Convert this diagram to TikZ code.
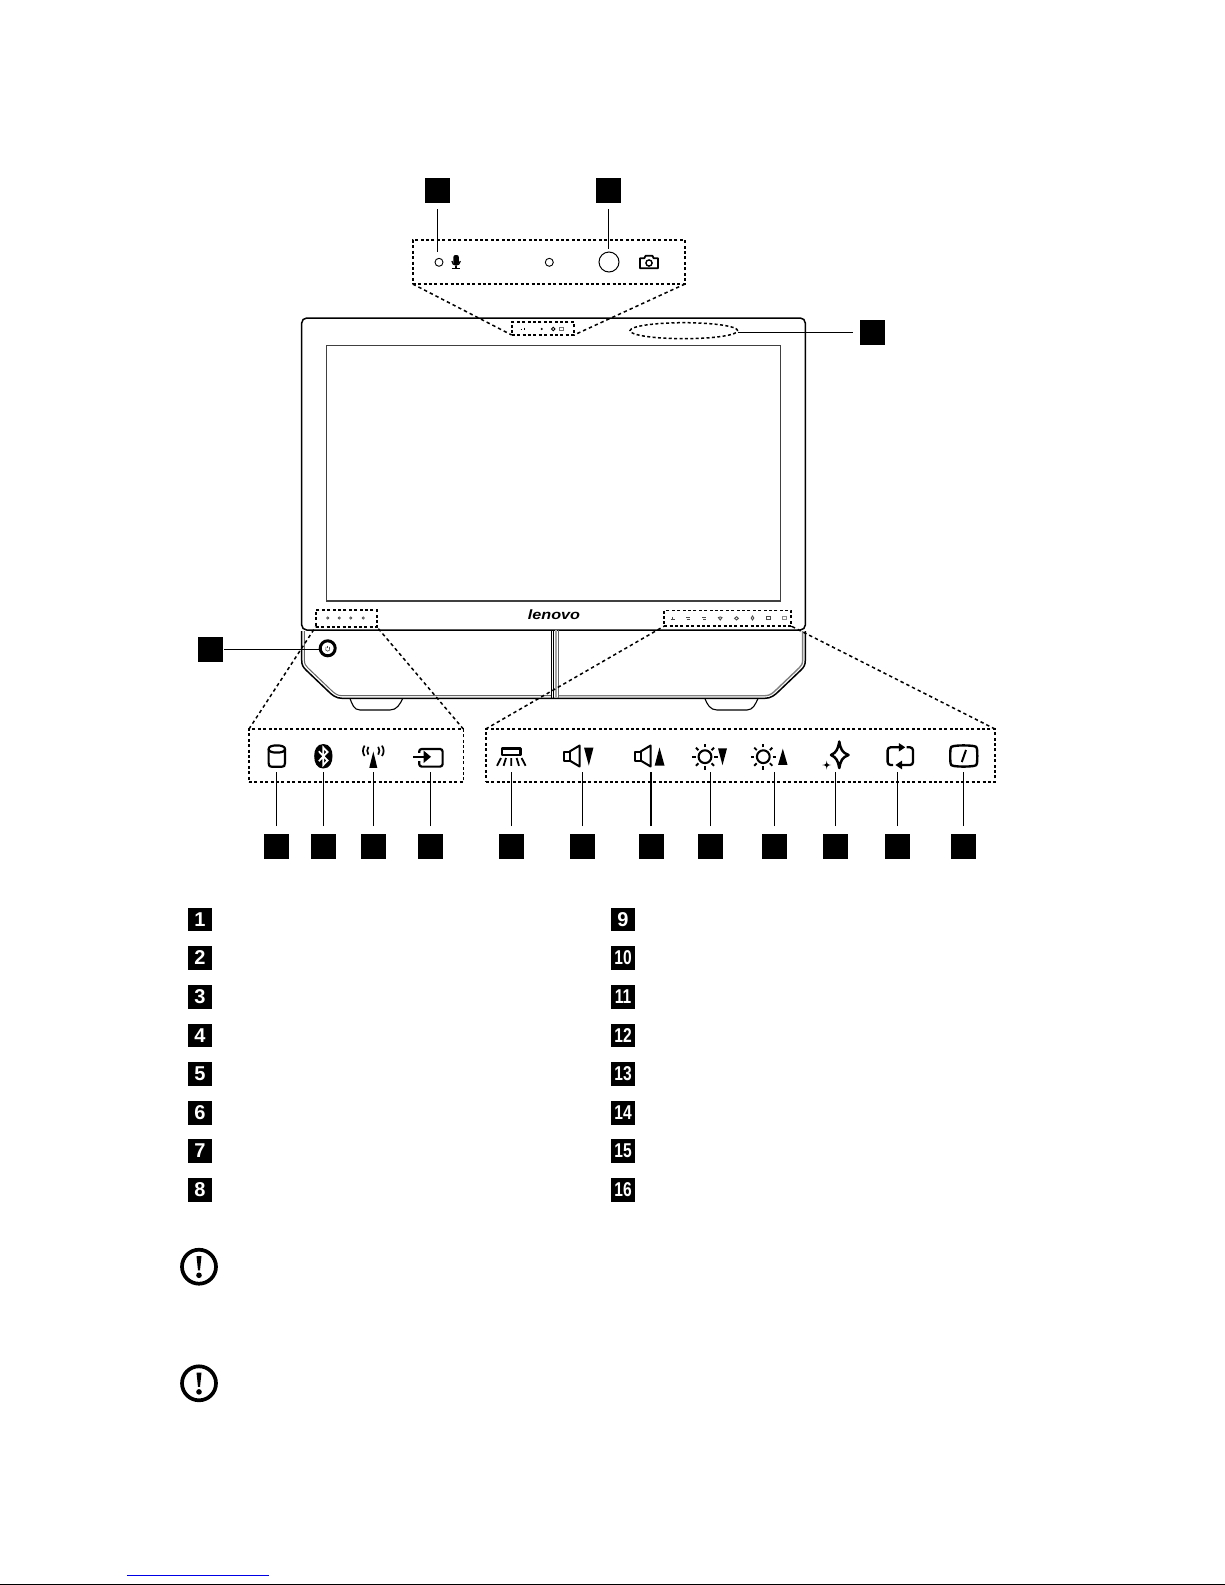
\documentclass[tikz,border=0pt]{standalone}
\usepackage{fontspec}
\usepackage{graphicx}
\setmainfont{Liberation Sans}
\usetikzlibrary{shapes.geometric}
\definecolor{lnkblue}{RGB}{0,0,230}
\tikzset{
  x=1pt,y=-1pt,
  sq/.style={fill=black,draw=none,minimum width=25pt,minimum height=25pt,inner sep=0pt,outer sep=0pt},
  lg/.style={fill=black,draw=none,minimum width=24pt,minimum height=23.6pt,inner sep=0pt,outer sep=0pt,text=white,font=\bfseries\fontsize{20}{20}\selectfont},
  conn/.style={draw=black,line width=1.2pt},
  dbox/.style={draw=black,line width=1.6pt,dash pattern=on 3pt off 2.4pt,inner sep=0pt,outer sep=0pt},
  dline/.style={draw=black,line width=1.5pt,dash pattern=on 3.4pt off 3pt},
  icon/.style={draw=black,line width=2.2pt,line join=round},
  tinymark/.style={draw=black!70,line width=.7pt},
  pics/spkicon/.style={code={
    \draw[icon,line width=2pt] (0,-4.5) rectangle (6,4.5);
    \draw[icon,line width=2pt] (6,-4.5) -- (16,-10.5) -- (16,10.5) -- (6,4.5);
  }},
  pics/sunicon/.style={code={
    \draw[icon,line width=2.1pt] (0,0) circle[radius=6.4pt];
    \foreach \a in {0,45,...,315} {\draw[icon,line width=1.9pt] (\a:9.3pt) -- (\a:12.8pt);}
  }},
  pics/alerticon/.style={code={
    \draw[black,line width=3.7pt] (0,0) circle[radius=17pt];
    \fill[black] (-2.5,-10.7) -- (2.5,-10.7) -- (1,3.6) -- (-1,3.6) -- cycle;
    \fill[black] (0,8.6) circle[radius=2.8pt];
  }},
}
\begin{document}
\begin{tikzpicture}
\useasboundingbox (0,0) rectangle (1225,1585);
% monitor
\node[draw=black,line width=1.5pt,rounded corners=5pt,minimum width=503.6pt,minimum height=312pt,inner sep=0pt,outer sep=0pt] (monitor) at (553.5,474) {};
\node[draw=black!75,line width=1.1pt,minimum width=453.6pt,minimum height=255.6pt,inner sep=0pt,outer sep=0pt] (screen) at (553.5,473.2) {};
\node[inner sep=0pt,font=\bfseries\itshape\fontsize{13.5}{13.5}\selectfont] (logo) at (554,615) {\scalebox{1.2}[1]{lenovo}};
% base
\draw[black,line width=1.5pt] (301.7,631) -- (301.7,660) .. controls (301.7,665) and (303,667) .. (306,670) -- (328,691) .. controls (332,695) and (336,698.3) .. (342,698.3) -- (765,698.3) .. controls (771,698.3) and (775,695) .. (779,691) -- (801,670) .. controls (804,667) and (805.3,665) .. (805.3,660) -- (805.3,631);
\draw[black!60,line width=1pt] (304.4,631) -- (304.4,660) .. controls (304.4,664) and (305.5,665.5) .. (308,668) -- (330,689) .. controls (334,693) and (337,695.7) .. (342,695.7) -- (551,695.7);
\draw[black!50,line width=1.4pt] (802.6,631) -- (802.6,660) .. controls (802.6,664) and (801.5,665.5) .. (799,668) -- (777,689) .. controls (773,693) and (770,695.7) .. (765,695.7) -- (558,695.7);
% centre strip
\draw[black,line width=1pt] (551,630) -- (551,698);
\draw[black,line width=1pt] (553.4,630) -- (553.4,698);
\draw[black!35,line width=1.4pt] (556,630) -- (556,698);
\draw[black!60,line width=.9pt] (558.3,630) -- (558.3,698);
% feet
\draw[black,line width=1.1pt] (350,698.5) .. controls (352,704) and (354,710) .. (360,710) -- (390,710) .. controls (397,710) and (400,704) .. (402.7,698.5);
\draw[black,line width=1.1pt] (704.9,698.5) .. controls (707,704) and (710,710) .. (717,710) -- (747,710) .. controls (753,710) and (755.5,704) .. (758,698.5);
% dashed boxes
\node[dbox,minimum width=272.3pt,minimum height=44pt] (camzoom) at (548.85,262) {};
\node[dbox,minimum width=62.3pt,minimum height=13pt] (camsmall) at (542.85,328.5) {};
\node[dbox,minimum width=214.3pt,minimum height=53pt] (ledzoom) at (356.15,755.5) {};
\node[dbox,minimum width=61pt,minimum height=16.7pt] (ledsmall) at (346.2,618.35) {};
\node[dbox,minimum width=509.3pt,minimum height=53pt] (keyzoom) at (740.35,755.5) {};
\node[dbox,minimum width=127pt,minimum height=15.8pt] (keysmall) at (727.7,618.2) {};
\node[draw=black,ellipse,line width=1.5pt,dash pattern=on 3pt off 2.4pt,minimum width=107.7pt,minimum height=16pt,inner sep=0pt,outer sep=0pt] (ellipsezone) at (683.85,330.7) {};
\draw[dline] (camzoom.south west) -- (camsmall.south west);
\draw[dline] (camzoom.south east) -- (camsmall.south east);
\draw[dline] (ledzoom.north west) -- (ledsmall.south west);
\draw[dline] (ledzoom.north east) -- (ledsmall.south east);
\draw[dline] (keyzoom.north west) -- (keysmall.south west);
\draw[dline] (keyzoom.north east) -- (keysmall.south east);
% tiny marks, camera strip
\draw[tinymark,draw=black] (520.5,329) -- (522,329) (524,327.6) -- (524,330.4);
\fill[black] (541.8,329) circle[radius=1.1pt];
\draw[tinymark,draw=black,line width=.9pt] (553.3,329) circle[radius=1.8pt];
\draw[tinymark,draw=black!55] (559.4,327.5) rectangle (563.2,330.5);
% tiny marks, led strip
\foreach \mx in {327.7,339.3,350.7,363.3} {\draw[tinymark] (\mx,618) circle[radius=1.1pt];}
% tiny marks, key strip
\draw[tinymark] (670.5,619.5) -- (675,619.5) (672.7,616.5) -- (672.7,619.5);
\draw[tinymark] (686,617.5) -- (690,617.5) (686.5,619.5) -- (689.5,619.5);
\draw[tinymark] (702,617.5) -- (706,617.5) (703,619.5) -- (706,619.5);
\draw[tinymark,line width=.9pt] (720.2,616.9) -- (722,617.6) -- (720.2,620) -- (718.4,617.6) -- cycle;
\draw[tinymark,line width=.9pt] (736.5,616.7) -- (738.4,618.3) -- (736.5,620) -- (734.6,618.3) -- cycle;
\draw[tinymark,line width=.9pt] (752.5,616) -- (753.8,618) -- (752.5,620) -- (751.2,618) -- cycle;
\draw[tinymark] (766.8,616.6) rectangle (770.2,619.8);
\draw[tinymark,draw=black!45] (782.8,616.6) rectangle (786.2,619.8);
% camera head
\node[draw=black,circle,line width=.9pt,minimum size=8pt,inner sep=0pt,outer sep=0pt] (micdot) at (439,262.3) {};
\node[draw=black,circle,line width=.9pt,minimum size=8pt,inner sep=0pt,outer sep=0pt] (dotb) at (549.3,262.3) {};
\node[draw=black,circle,line width=1pt,minimum size=20pt,inner sep=0pt,outer sep=0pt] (lens) at (609,262) {};
% mic icon
\fill[black,rounded corners=2pt] (453.4,255) rectangle (458.8,265);
\draw[black,line width=1.2pt] (451.9,261) .. controls (452,266.5) and (460,266.5) .. (460.3,261);
\draw[black,line width=1.3pt] (456.1,265.5) -- (456.1,268.8) (451.8,268.8) -- (460.4,268.8);
% camera icon
\draw[icon,line width=1.8pt] (640,258.3) -- (644.3,258.3) -- (645.6,255.8) -- (652.4,255.8) -- (653.7,258.3) -- (658,258.3) -- (658,268.3) -- (640,268.3) -- cycle;
\draw[black,line width=1.4pt] (649,263) circle[radius=3.1pt];
% power
\node[draw=black,circle,line width=3pt,minimum size=15pt,inner sep=0pt,outer sep=0pt] (power) at (327.7,648.3) {};
\draw[black!70,line width=.6pt] (327.7,645.8) -- (327.7,648.4);
\draw[black!70,line width=.6pt] (326,646.8) .. controls (324.8,649.5) and (326,651.2) .. (327.7,651.2) .. controls (329.4,651.2) and (330.6,649.5) .. (329.4,646.8);
% icons: drive
\draw[icon] (268.6,749) -- (268.6,763) .. controls (268.6,766) and (269.6,766.8) .. (272,766.8) -- (281.5,766.8) .. controls (284,766.8) and (285,766) .. (285,763) -- (285,749);
\draw[icon] (276.8,745.4) .. controls (272,745.4) and (268.6,746.6) .. (268.6,749) .. controls (268.6,751.4) and (272,752.6) .. (276.8,752.6) .. controls (281.6,752.6) and (285,751.4) .. (285,749) .. controls (285,746.6) and (281.6,745.4) .. (276.8,745.4) -- cycle;
% bluetooth
\fill[black] (323.3,744) .. controls (330,744) and (332.5,750) .. (332.5,756) .. controls (332.5,762.5) and (330,768.5) .. (323.3,768.5) .. controls (316.6,768.5) and (314.2,762.5) .. (314.2,756) .. controls (314.2,750) and (316.6,744) .. (323.3,744) -- cycle;
\draw[white,line width=1.7pt,line join=miter] (318.8,751.3) -- (327.6,760.5) -- (323.3,765) -- (323.3,747.5) -- (327.6,752) -- (318.8,761.2);
% antenna
\fill[black] (373.3,751.5) -- (377.3,767.8) -- (369.3,767.8) -- cycle;
\draw[black,line width=1.7pt] (368.4,746.8) .. controls (366.8,749.5) and (366.8,752) .. (368.4,754.6);
\draw[black,line width=1.7pt] (378.2,746.8) .. controls (379.8,749.5) and (379.8,752) .. (378.2,754.6);
\draw[black,line width=1.7pt] (364.6,745.6) .. controls (362.4,749.5) and (362.4,752.4) .. (364.6,756);
\draw[black,line width=1.7pt] (382,745.6) .. controls (384.2,749.5) and (384.2,752.4) .. (382,756);
% input
\draw[icon,rounded corners=2.5pt] (419.2,752.8) -- (419.2,749) -- (442.6,749) -- (442.6,766.6) -- (419.2,766.6) -- (419.2,761);
\draw[black,line width=2.3pt] (413,756.8) -- (425,756.8);
\fill[black] (423.6,750.6) -- (431,756.8) -- (423.6,763) -- cycle;
% lamp
\draw[icon] (501.8,748.4) rectangle (520.4,754.6);
\draw[black,line width=1.8pt] (501,758) -- (497,765.8) (506,758) -- (503.6,765.8) (511.3,758) -- (511.3,765.8) (516.6,758) -- (519,765.8) (521.6,758) -- (525.6,765.8);
% speakers, suns, triangles
\pic at (563.6,756) {spkicon};
\fill[black] (584,747.5) -- (593.5,747.5) -- (588.8,765.5) -- cycle;
\pic at (634.6,756) {spkicon};
\fill[black] (659.5,747.5) -- (664.5,765.5) -- (654.7,765.5) -- cycle;
\pic at (705,756.7) {sunicon};
\fill[black] (718,748.3) -- (727,748.3) -- (722.5,765.2) -- cycle;
\pic at (763.3,756.7) {sunicon};
\fill[black] (782.8,748.7) -- (787.5,764.8) -- (778.1,764.8) -- cycle;
% star
\draw[icon,line width=2.5pt] (839.3,741.5) .. controls (840.5,749) and (842,752.5) .. (848.5,755) .. controls (842,757.5) and (840.5,761) .. (839.3,768) .. controls (838,761) and (836.5,757.5) .. (831,755) .. controls (836.5,752.5) and (838,749) .. (839.3,741.5) -- cycle;
\fill[black] (826.7,760.5) .. controls (827,764) and (827.6,764.6) .. (831.2,765) .. controls (827.6,765.4) and (827,766) .. (826.7,769.5) .. controls (826.4,766) and (825.8,765.4) .. (822.2,765) .. controls (825.8,764.6) and (826.4,764) .. (826.7,760.5) -- cycle;
% refresh
\draw[icon,line width=2.3pt,rounded corners=3pt] (893,765) -- (887.6,765) -- (887.6,747.3) -- (899.5,747.3);
\fill[black] (898.8,743) -- (905.2,747.3) -- (898.8,751.6) -- cycle;
\draw[icon,line width=2.3pt,rounded corners=3pt] (906.5,747.3) -- (913,747.3) -- (913,765) -- (901,765);
\fill[black] (902,760.6) -- (895.4,765) -- (902,769.4) -- cycle;
% tv
\draw[icon,line width=2.4pt] (954,746) .. controls (959,745.2) and (968,745.2) .. (973.5,746) .. controls (976,746.2) and (976.8,747) .. (977,749) .. controls (977.4,753) and (977.4,759) .. (977,763) .. controls (976.8,765) and (976,765.8) .. (973.5,766) .. controls (968,766.8) and (959,766.8) .. (954,766) .. controls (951.5,765.8) and (950.7,765) .. (950.5,763) .. controls (950.1,759) and (950.1,753) .. (950.5,749) .. controls (950.7,747) and (951.5,746.2) .. (954,746) -- cycle;
\draw[black,line width=2pt] (966,750) -- (961.8,762);
% squares (diagram)
\node[sq] (s1) at (437.5,190.5) {};
\node[sq] (s2) at (608.5,190.5) {};
\node[sq] (s3) at (872.5,332.5) {};
\node[sq] (s4) at (210.5,649.5) {};
\foreach \nm/\px in {a/276.7,b/323.5,c/373.5,d/430.3,e/511.5,f/582.3,g/651.2,h/710.6,i/774.6,j/835.8,k/897.5,m/963.5} {
  \node[sq] (b\nm) at (\px,846.5) {};
  \coordinate (t\nm) at (\px,772);
}
\coordinate (c1) at (437.5,252);
\coordinate (c2) at (608.5,249);
\draw[conn,shorten <=6pt] (s1) -- (c1);
\draw[conn,shorten <=6pt] (s2) -- (c2);
\draw[conn,shorten <=7.5pt] (s3) -- (ellipsezone.east |- s3);
\draw[conn,shorten <=1pt] (s4) -- (power.west |- s4);
\foreach \nm in {a,b,c,d,e,f,h,i,j,k,m} {\draw[conn,shorten <=8pt] (b\nm) -- (t\nm);}
\draw[conn,line width=1.9pt,shorten <=8pt] (bg) -- (tg);
% legend
\foreach \n/\ly in {1/919.5,2/958,3/997,4/1035.5,5/1074,6/1113,7/1151,8/1190} {
  \node[lg] (l\n) at (200,\ly) {\n};
}
\foreach \n/\ly in {9/919.5} {\node[lg] (l\n) at (623,\ly) {\n};}
\foreach \n/\ly in {10/958,11/997,12/1035.5,13/1074,14/1113,15/1151,16/1190} {
  \node[lg] (l\n) at (623,\ly) {\scalebox{.78}[1]{\n}};
}
% alerts
\pic at (199,1266.7) {alerticon};
\pic at (199,1383.3) {alerticon};
% footer
\coordinate (lnkl) at (127,1575.3);
\coordinate (lnkr) at (269,1575.3);
\draw[lnkblue,line width=1pt] (lnkl) -- (lnkr);
\coordinate (ftl) at (0,1584.4);
\coordinate (ftr) at (1225,1584.4);
\draw[black,line width=1.2pt] (ftl) -- (ftr);
\end{tikzpicture}
\end{document}
